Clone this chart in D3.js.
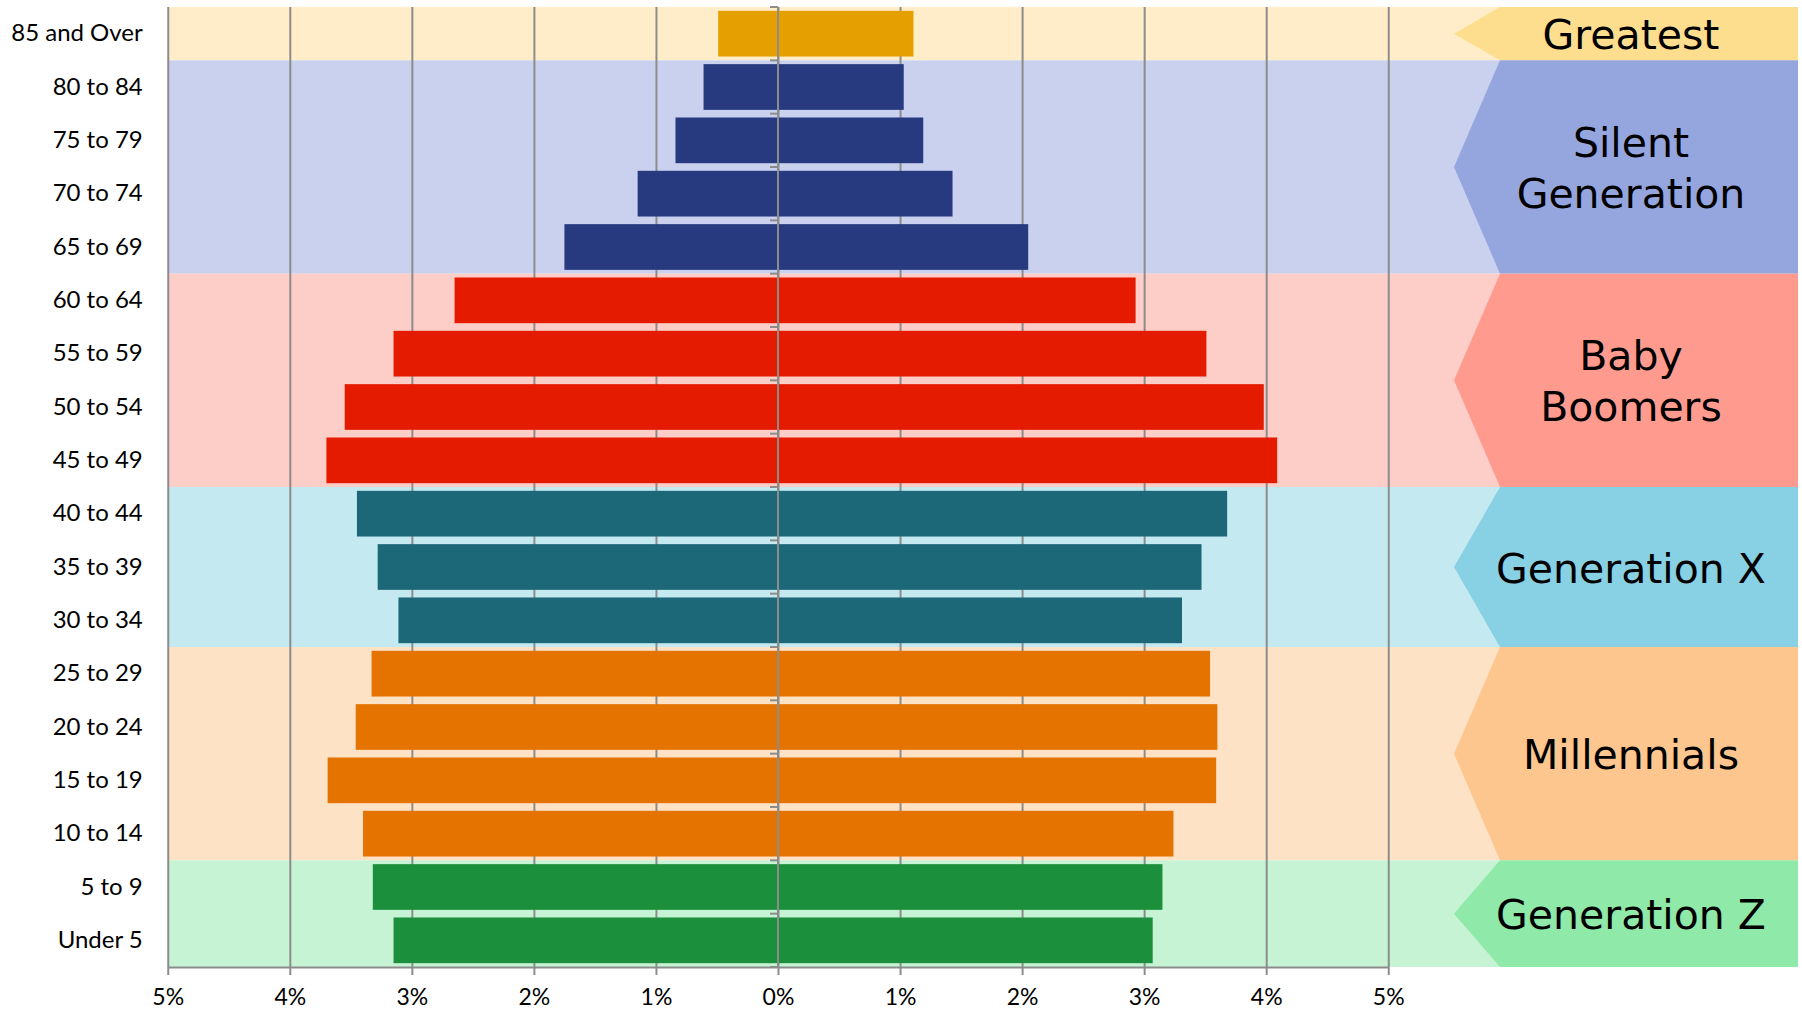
<!DOCTYPE html>
<html>
<head>
<meta charset="utf-8">
<script src="https://cdn.jsdelivr.net/npm/d3@7"></script>
<style>
  body { margin: 0; background: #fff; }
  svg { display: block; }
</style>
</head>
<body>
<svg id="chart" width="1802" height="1012"></svg>
<script>

/* Data
-------------------------------------------------------------------------------------------------*/
const ageGroups = ["85 and Over", "80 to 84", "75 to 79", "70 to 74", "65 to 69", "60 to 64", "55 to 59",
  "50 to 54", "45 to 49", "40 to 44", "35 to 39", "30 to 34", "25 to 29", "20 to 24", "15 to 19",
  "10 to 14", "5 to 9", "Under 5"]

// share of population (%), left and right side of the pyramid
const leftPct = [0.49, 0.61, 0.84, 1.15, 1.75, 2.65, 3.15, 3.55, 3.70, 3.45, 3.28, 3.11, 3.33, 3.46, 3.69, 3.40, 3.32, 3.15]
const rightPct = [1.11, 1.03, 1.19, 1.43, 2.05, 2.93, 3.51, 3.98, 4.09, 3.68, 3.47, 3.31, 3.54, 3.60, 3.59, 3.24, 3.15, 3.07]

const generations = ["Greatest", "Silent Generation", "Baby Boomers", "Generation X", "Millennials", "Generation Z"]
const generationLines = [["Greatest"], ["Silent", "Generation"], ["Baby", "Boomers"], ["Generation X"], ["Millennials"], ["Generation Z"]]
const generationFirst = ["85 and Over", "80 to 84", "60 to 64", "40 to 44", "25 to 29", "5 to 9"]
const generationLast = ["85 and Over", "65 to 69", "45 to 49", "30 to 34", "10 to 14", "Under 5"]

const xTicks = [-5, -4, -3, -2, -1, 0, 1, 2, 3, 4, 5]

/* Styles
-------------------------------------------------------------------------------------------------*/
const colors = {
  "Greatest":          {band: "#ffedc9", arrow: "#fdde8f", bar: "#e5a000"},
  "Silent Generation": {band: "#cad1ee", arrow: "#95a6de", bar: "#27397f"},
  "Baby Boomers":      {band: "#fdcdc7", arrow: "#fe9b8e", bar: "#e51b00"},
  "Generation X":      {band: "#c4e9f1", arrow: "#88d1e4", bar: "#1c6878"},
  "Millennials":       {band: "#fee2c5", arrow: "#fec68f", bar: "#e57300"},
  "Generation Z":      {band: "#c6f3d4", arrow: "#8fe9a8", bar: "#1c8f3c"}
}
const gridColor = "#8c8c8c"
const labelFont = "Lato, 'Open Sans', sans-serif"
const genFont = "'DejaVu Sans', Verdana, sans-serif"

/* Graph
-------------------------------------------------------------------------------------------------*/
const plotTop = 7
const plotBottom = 967
const panel = {notch: 1500, tip: 1454, right: 1798, textX: 1631}

const svg = d3.select("#chart")

const x = d3.scaleLinear().domain([-5, 5]).range([167.75, 1388.25])
const row = d3.scaleBand().domain(ageGroups).range([plotTop, plotBottom])
const barPad = 0.0715
const barH = row.bandwidth() * (1 - 2 * barPad)

const genIndex = i => generations.findIndex((g, k) =>
  i >= ageGroups.indexOf(generationFirst[k]) && i <= ageGroups.indexOf(generationLast[k]))

const bands = generations.map((name, k) => ({
  name,
  lines: generationLines[k],
  y0: row(generationFirst[k]),
  y1: row(generationLast[k]) + row.bandwidth()
}))

// Fonds par génération
svg.append("g")
  .attr("class", "bands")
  .selectAll("rect")
  .data(bands)
  .join("rect")
  .attr("x", x(-5))
  .attr("y", d => d.y0)
  .attr("width", panel.notch - x(-5))
  .attr("height", d => d.y1 - d.y0)
  .style("fill", d => colors[d.name].band)

// Flèches
svg.append("g")
  .attr("class", "arrows")
  .selectAll("path")
  .data(bands)
  .join("path")
  .attr("d", d => `M${panel.notch},${d.y0}H${panel.right}V${d.y1}H${panel.notch}L${panel.tip},${(d.y0 + d.y1) / 2}Z`)
  .style("fill", d => colors[d.name].arrow)

// Grille verticale
svg.append("g")
  .attr("class", "grid")
  .attr("transform", "translate(0," + plotBottom + ")")
  .call(d3.axisBottom(x).tickValues(xTicks).tickSize(-(plotBottom - plotTop)).tickSizeOuter(0).tickFormat(""))
  .call(g => g.select(".domain").remove())
  .selectAll("line")
  .style("stroke", gridColor)
  .style("stroke-width", 2)

// Barres
const rows = ageGroups.map((age, i) => ({age, left: leftPct[i], right: rightPct[i], gen: generations[genIndex(i)]}))

svg.append("g")
  .attr("class", "bars-left")
  .selectAll("rect")
  .data(rows)
  .join("rect")
  .attr("x", d => x(-d.left))
  .attr("y", d => row(d.age) + row.bandwidth() * barPad)
  .attr("width", d => x(0) - x(-d.left))
  .attr("height", barH)
  .style("fill", d => colors[d.gen].bar)

svg.append("g")
  .attr("class", "bars-right")
  .selectAll("rect")
  .data(rows)
  .join("rect")
  .attr("x", x(0))
  .attr("y", d => row(d.age) + row.bandwidth() * barPad)
  .attr("width", d => x(d.right) - x(0))
  .attr("height", barH)
  .style("fill", d => colors[d.gen].bar)

// Axe central (0%) avec ses graduations
const center = svg.append("g").attr("class", "center-axis")
center.append("line")
  .attr("x1", x(0)).attr("x2", x(0))
  .attr("y1", plotTop).attr("y2", plotBottom)
  .style("stroke", gridColor)
  .style("stroke-width", 2)
center.selectAll(".tick")
  .data(d3.range(ageGroups.length + 1))
  .join("line")
  .attr("class", "tick")
  .attr("x1", x(0) - 8).attr("x2", x(0))
  .attr("y1", i => plotTop + i * row.step())
  .attr("y2", i => plotTop + i * row.step())
  .style("stroke", gridColor)
  .style("stroke-width", 2)

// Abscisse
svg.append("g")
  .attr("class", "xaxis")
  .attr("transform", "translate(0," + plotBottom + ")")
  .call(d3.axisBottom(x).tickValues(xTicks).tickSize(8).tickSizeOuter(0).tickPadding(14)
    .tickFormat(d => Math.abs(d) + "%"))
  .call(g => g.select(".domain").style("stroke", gridColor).style("stroke-width", 2))
  .call(g => g.selectAll(".tick line").style("stroke", gridColor).style("stroke-width", 2))
  .selectAll("text")
  .style("font-family", labelFont)
  .style("font-size", "23px")
  .style("fill", "#000")

// Tranches d'âge
svg.append("g")
  .attr("class", "yaxis")
  .attr("transform", "translate(" + x(-5) + ",0)")
  .call(d3.axisLeft(row).tickSize(0).tickPadding(25))
  .call(g => g.select(".domain").remove())
  .selectAll("text")
  .style("font-family", labelFont)
  .style("font-size", "24px")
  .style("fill", "#000")

// Noms des générations
const genLabels = svg.append("g")
  .attr("class", "gen-labels")
  .selectAll("text")
  .data(bands)
  .join("text")
  .attr("text-anchor", "middle")
  .style("font-family", genFont)
  .style("font-size", "41px")
  .style("fill", "#000")

genLabels.selectAll("tspan")
  .data(d => d.lines.map((line, j) => ({line, j, n: d.lines.length, mid: (d.y0 + d.y1) / 2})))
  .join("tspan")
  .attr("x", panel.textX)
  .attr("y", t => t.mid + 15.5 - (t.n - 1) * 25.5 + t.j * 51)
  .text(t => t.line)

</script>
</body>
</html>
